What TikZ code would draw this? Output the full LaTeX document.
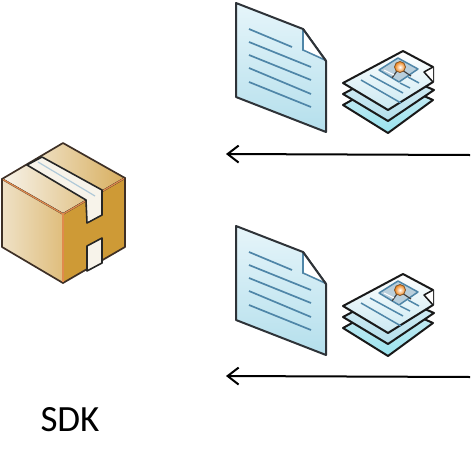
\documentclass[tikz,border=0pt]{standalone}
\usepackage{fontspec}
\setmainfont{Carlito}
\usetikzlibrary{arrows.meta}
\definecolor{edge}{HTML}{2E3338}
\definecolor{txtline}{HTML}{4F86A8}
\definecolor{pagelo}{HTML}{B4DFEC}
\definecolor{pagehi}{HTML}{E6F5FA}
\definecolor{boxedge}{HTML}{3E3026}
\definecolor{seam}{HTML}{E08A4E}
\definecolor{gold}{HTML}{CE9A36}
\definecolor{tape}{HTML}{F7F3EA}
\tikzset{
 pageshape/.style={draw=edge,line width=2pt,line join=round,top color=pagehi,bottom color=pagelo},
 pagefold/.style={draw=edge,line width=1.6pt,line join=round,fill=white},
 textline/.style={draw=txtline,line width=1.7pt},
 sheetshape/.style={draw=black!90,line width=2pt,line join=round},
 flow/.style={draw=black,line width=2pt,-{Straight Barb[length=11pt,width=17pt,line width=2pt]}},
 boxface/.style={draw=boxedge,line width=1.7pt,line join=round},
 tapeface/.style={draw=black!85,line width=1.6pt,line join=round,fill=tape},
 labeltext/.style={font=\fontsize{37}{37}\selectfont,text=black,inner sep=0pt}
}
\newcommand{\docgroup}{%
  \path[pageshape] (236,3)--(303,29)--(326,61)--(326,132)--(236,97)--cycle;
  \path[fill=white] (303,29)--(326,61)--(305,52)--(303,48)--cycle;
  \draw[draw=txtline,line width=1.6pt] (303,30)--(303,50)--(325,60);
  \draw[draw=edge,line width=2pt] (303,29)--(326,61);
  \draw[textline] (249,29)--(292,47);
  \draw[textline] (249,42)--(311,67);
  \draw[textline] (249,55)--(311,80);
  \draw[textline] (249,68)--(311,94);
  \draw[textline] (249,82)--(311,107);
  % stack
  \path[sheetshape,top color=pagelo!60!white,bottom color=pagelo!85!cyan] (343,105)--(388,80)--(433,100)--(388,133)--cycle;
  \path[sheetshape,top color=pagelo!50!white,bottom color=pagelo] (343,94)--(388,70)--(434,90)--(388,121)--cycle;
  \path[sheetshape,top color=white,bottom color=pagelo!70!white] (343,83)--(403,51)--(433,67)--(433,82)--(388,110)--cycle;
  \path[fill=white,draw=black!90,line width=1.5pt,line join=round] (433,67)--(424,72)--(433,82);
  \draw[textline,line width=1.5pt] (361,80)--(401,103);
  \draw[textline,line width=1.5pt] (370,75)--(403,93);
  \draw[textline,line width=1.5pt] (400,83)--(410,88);
  \draw[textline,line width=1.5pt] (408,77)--(419,83);
  \path[draw=txtline,line width=1.5pt,fill=txtline!40!white,line join=round] (379,70)--(398,58)--(418,69)--(399,82)--cycle;
  \draw[draw=black!75,line width=1.2pt] (392,78)--(399,68)--(411,76);
  \draw[draw=white,line width=1pt] (384,70)--(394,75);
  \fill[draw=brown!70!black,line width=.8pt,inner color=white,outer color=orange!75!brown] (400,67) circle (5.5);
}
\begin{document}
\begin{tikzpicture}[x=1pt,y=-1pt]
\useasboundingbox (0,0) rectangle (471,450);
\docgroup
\begin{scope}[shift={(0,223)}]
\docgroup
\end{scope}
% box
\path[boxface,left color=tape,right color=gold!80!white] (63,143)--(125,178)--(63,214)--(2,179)--cycle;
\path[boxface,left color=tape!80!gold,right color=gold!65!white] (2,179)--(63,214)--(63,283)--(2,247)--cycle;
\path[boxface,fill=gold] (63,214)--(125,178)--(125,247)--(63,283)--cycle;
\draw[seam,line width=1.3pt] (3,179.5)--(63,214)--(124,178.5);
\draw[seam,line width=1.3pt] (63,214)--(63,282);
\path[tapeface] (27,165)--(42,157)--(102,190)--(102,215)--(87,223)--(86,200)--cycle;
\fill[tape] (88,201)--(100.7,192.5)--(100.7,214)--(88.5,221)--cycle;
\draw[draw=txtline!45!white,line width=1.2pt] (38,162)--(95,196);
\path[tapeface] (87,246)--(102,238)--(102,263)--(87,271)--cycle;
% arrows
\coordinate (a1) at (470,155);
\coordinate (b1) at (226,154);
\coordinate (a2) at (470,377);
\coordinate (b2) at (226,376);
\draw[flow] (a1)--(b1);
\draw[flow] (a2)--(b2);
\node[labeltext] (sdk) at (70,420) {SDK};
\end{tikzpicture}
\end{document}
